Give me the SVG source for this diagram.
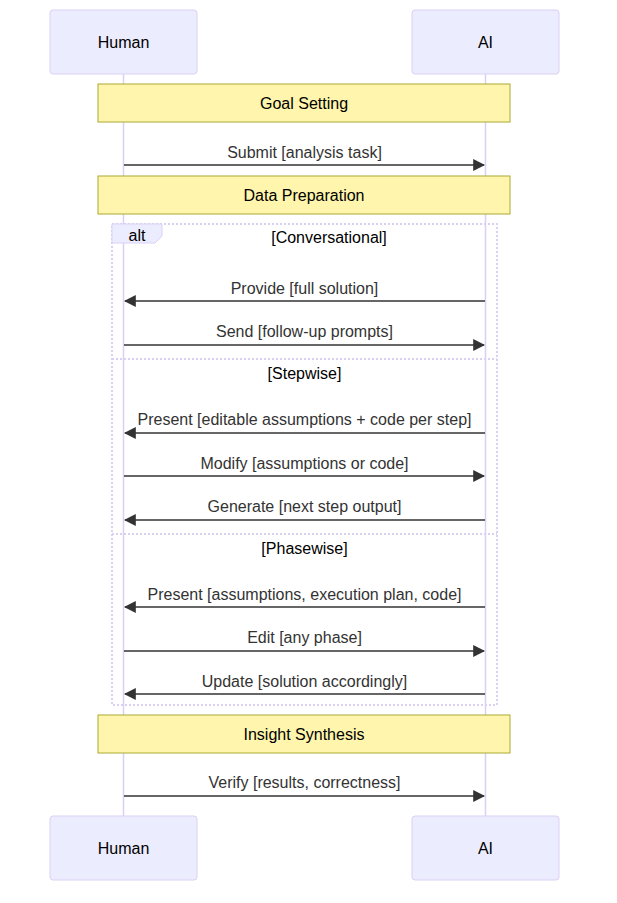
<svg xmlns="http://www.w3.org/2000/svg" width="617" height="903" viewBox="0 0 617 903">
<defs>
<style>
text{font-family:"Trebuchet MS","Liberation Sans",Arial,sans-serif;font-size:16px;text-anchor:middle;dominant-baseline:central}
.actor{fill:#ECECFF;stroke:#DAD0F3;stroke-width:1}
.actor-text{fill:#000}
.lifeline{stroke:#DAD0F3;stroke-width:1.5}
.note{fill:#FFF5AD;stroke:#AAAA33;stroke-width:1}
.note-text{fill:#000}
.msg{stroke:#333;stroke-width:1.5;fill:none}
.msg-text{fill:#333}
.loop{stroke:#DAD0F3;stroke-width:2;stroke-dasharray:2,2;fill:none}
.label-box{fill:#ECECFF;stroke:#DAD0F3;stroke-width:1}
.label-text{fill:#000}
</style>
<marker id="arrow" viewBox="0 0 10 10" refX="9" refY="5" markerWidth="12" markerHeight="12" markerUnits="userSpaceOnUse" orient="auto">
<path d="M 0 0 L 10 5 L 0 10 z" fill="#333"/>
</marker>
</defs>
<rect width="617" height="903" fill="#fff"/>
<g id="lifelines">
<line class="lifeline" x1="123.5" y1="74" x2="123.5" y2="816"/>
<line class="lifeline" x1="485.5" y1="74" x2="485.5" y2="816"/>
</g>
<g id="actor-human-top"><rect class="actor" x="50" y="10" width="147" height="64" rx="3"/><text class="actor-text" x="123.5" y="42">Human</text></g>
<g id="actor-ai-top"><rect class="actor" x="412" y="10" width="147" height="64" rx="3"/><text class="actor-text" x="485.5" y="42">AI</text></g>
<g id="note-goal"><rect class="note" x="98" y="84" width="412" height="38"/><text class="note-text" x="304" y="103">Goal Setting</text></g>
<g id="note-data"><rect class="note" x="98" y="176" width="412" height="38"/><text class="note-text" x="304" y="195">Data Preparation</text></g>
<g id="alt-block">
<rect class="loop" x="112" y="224" width="385" height="481"/>
<line class="loop" x1="112" y1="359" x2="497" y2="359"/>
<line class="loop" x1="112" y1="534" x2="497" y2="534"/>
<polygon class="label-box" points="112,224 162,224 162,236 155,243 112,243"/>
<text class="label-text" x="137" y="235">alt</text>
<text class="label-text" x="329" y="237">[Conversational]</text>
<text class="label-text" x="304.5" y="373">[Stepwise]</text>
<text class="label-text" x="304.5" y="548">[Phasewise]</text>
</g>
<g id="note-insight"><rect class="note" x="98" y="715" width="412" height="38"/><text class="note-text" x="304" y="734">Insight Synthesis</text></g>
<g id="messages">
<line class="msg" x1="124" y1="165" x2="484" y2="165" marker-end="url(#arrow)"/>
<text class="msg-text" x="304.5" y="152">Submit [analysis task]</text>
<line class="msg" x1="485" y1="301" x2="125" y2="301" marker-end="url(#arrow)"/>
<text class="msg-text" x="304.5" y="288">Provide [full solution]</text>
<line class="msg" x1="124" y1="345" x2="484" y2="345" marker-end="url(#arrow)"/>
<text class="msg-text" x="304.5" y="331">Send [follow-up prompts]</text>
<line class="msg" x1="485" y1="433" x2="125" y2="433" marker-end="url(#arrow)"/>
<text class="msg-text" x="304.5" y="419">Present [editable assumptions + code per step]</text>
<line class="msg" x1="124" y1="476" x2="484" y2="476" marker-end="url(#arrow)"/>
<text class="msg-text" x="304.5" y="463">Modify [assumptions or code]</text>
<line class="msg" x1="485" y1="520" x2="125" y2="520" marker-end="url(#arrow)"/>
<text class="msg-text" x="304.5" y="506">Generate [next step output]</text>
<line class="msg" x1="485" y1="607" x2="125" y2="607" marker-end="url(#arrow)"/>
<text class="msg-text" x="304.5" y="594">Present [assumptions, execution plan, code]</text>
<line class="msg" x1="124" y1="651" x2="484" y2="651" marker-end="url(#arrow)"/>
<text class="msg-text" x="304.5" y="637">Edit [any phase]</text>
<line class="msg" x1="485" y1="694" x2="125" y2="694" marker-end="url(#arrow)"/>
<text class="msg-text" x="304.5" y="681">Update [solution accordingly]</text>
<line class="msg" x1="124" y1="796" x2="484" y2="796" marker-end="url(#arrow)"/>
<text class="msg-text" x="304.5" y="782">Verify [results, correctness]</text>
</g>
<g id="actor-human-bottom"><rect class="actor" x="50" y="816" width="147" height="64" rx="3"/><text class="actor-text" x="123.5" y="848">Human</text></g>
<g id="actor-ai-bottom"><rect class="actor" x="412" y="816" width="147" height="64" rx="3"/><text class="actor-text" x="485.5" y="848">AI</text></g>
</svg>
